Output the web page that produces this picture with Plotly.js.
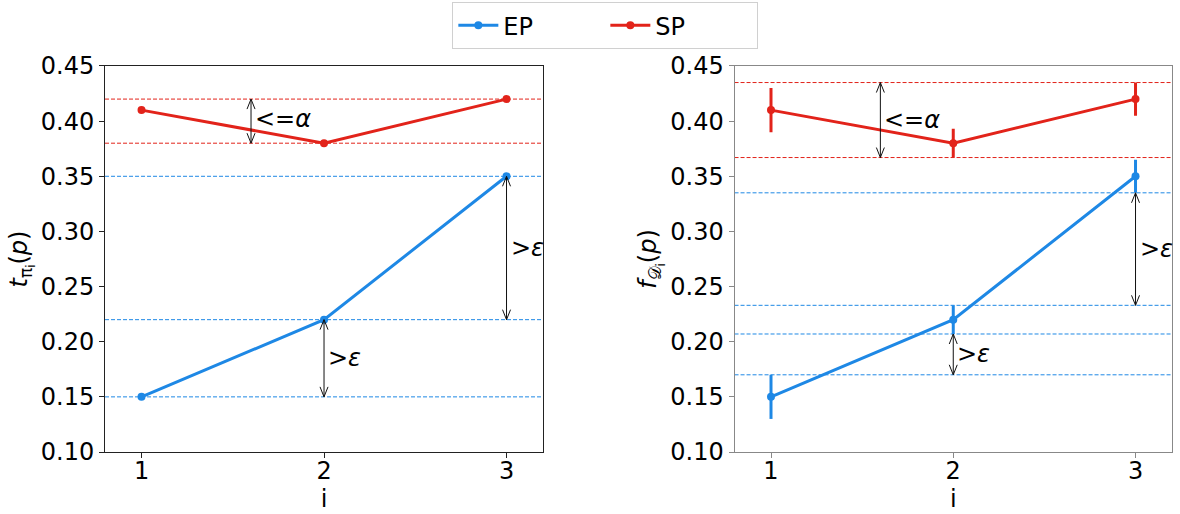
<!DOCTYPE html>
<html>
<head>
<meta charset="utf-8">
<script src="https://cdn.plot.ly/plotly-3.0.1.min.js"></script>
<style>html,body{margin:0;padding:0;background:#fff;} #chart{width:1180px;height:514px;}</style>
</head>
<body>
<div id="chart"></div>
<script>
// ---- data ----
const iVals = [1, 2, 3];
const epT = [0.15, 0.22, 0.35];
const spT = [0.41, 0.38, 0.42];
const epF = [0.15, 0.22, 0.35];
const spF = [0.41, 0.38, 0.42];
const epErr = [0.02, 0.013, 0.015];
const spErr = [0.02, 0.013, 0.015];
const yTicks = [0.10, 0.15, 0.20, 0.25, 0.30, 0.35, 0.40, 0.45];
const xTicks = [1, 2, 3];
const alphaX = 1.6;

const BLUE = '#1E88E5';
const RED = '#E2231A';
const FONT = 'DejaVu Sans';

const traces = [
  {x: iVals, y: epT, name: 'EP', mode: 'lines+markers', xaxis: 'x', yaxis: 'y',
   line: {color: BLUE, width: 3}, marker: {color: BLUE, size: 8}},
  {x: iVals, y: spT, name: 'SP', mode: 'lines+markers', xaxis: 'x', yaxis: 'y',
   line: {color: RED, width: 3}, marker: {color: RED, size: 8}},
  {x: iVals, y: epF, name: 'EP', mode: 'lines+markers', xaxis: 'x2', yaxis: 'y2', showlegend: false,
   line: {color: BLUE, width: 3}, marker: {color: BLUE, size: 8},
   error_y: {type: 'data', array: epErr, visible: true, color: BLUE, thickness: 3, width: 0}},
  {x: iVals, y: spF, name: 'SP', mode: 'lines+markers', xaxis: 'x2', yaxis: 'y2', showlegend: false,
   line: {color: RED, width: 3}, marker: {color: RED, size: 8},
   error_y: {type: 'data', array: spErr, visible: true, color: RED, thickness: 3, width: 0}}
];

const shapes = [];
const annotations = [];
function hline(xr, yr, y, color) {
  shapes.push({type: 'line', xref: xr + ' domain', yref: yr, x0: 0, x1: 1, y0: y, y1: y,
    line: {color: color, width: 1, dash: '4px,2px'}, layer: 'below'});
}
function darrow(xr, yr, x, y0, y1, label, ly) {
  shapes.push({type: 'line', xref: xr, yref: yr, x0: x, x1: x, y0: y0, y1: y1,
    line: {color: '#111', width: 1}});
  shapes.push({type: 'path', xref: xr, yref: yr, xsizemode: 'pixel', ysizemode: 'pixel',
    xanchor: x, yanchor: Math.max(y0, y1), path: 'M-4,-10 L0,0 L4,-10',
    line: {color: '#111', width: 1}});
  shapes.push({type: 'path', xref: xr, yref: yr, xsizemode: 'pixel', ysizemode: 'pixel',
    xanchor: x, yanchor: Math.min(y0, y1), path: 'M-4,10 L0,0 L4,10',
    line: {color: '#111', width: 1}});
  annotations.push({xref: xr, yref: yr, x: x, y: ly, text: label, showarrow: false,
    xanchor: 'left', yanchor: 'middle', xshift: 2, font: {family: FONT, size: 24, color: '#000'}});
}

// left panel
const spTmax = Math.max(...spT), spTmin = Math.min(...spT);
hline('x', 'y', spTmax, RED);
hline('x', 'y', spTmin, RED);
epT.forEach(v => hline('x', 'y', v, BLUE));
darrow('x', 'y', alphaX, spTmin, spTmax, '&lt;=<i>α</i>', (spTmin + spTmax) / 2 + 0.002);
darrow('x', 'y', iVals[1], epT[0], epT[1], '&gt;<i>ε</i>', (epT[0] + epT[1]) / 2);
darrow('x', 'y', iVals[2], epT[1], epT[2], '&gt;<i>ε</i>', (epT[1] + epT[2]) / 2);

// right panel
const spHi = Math.max(...spF.map((v, k) => v + spErr[k]));
const spLo = Math.min(...spF.map((v, k) => v - spErr[k]));
hline('x2', 'y2', spHi, RED);
hline('x2', 'y2', spLo, RED);
const b0 = epF[0] + epErr[0], b1 = epF[1] - epErr[1], b2 = epF[1] + epErr[1], b3 = epF[2] - epErr[2];
[b0, b1, b2, b3].forEach(v => hline('x2', 'y2', v, BLUE));
darrow('x2', 'y2', alphaX, spLo, spHi, '&lt;=<i>α</i>', (spLo + spHi) / 2);
darrow('x2', 'y2', iVals[1], b0, b1, '&gt;<i>ε</i>', (b0 + b1) / 2);
darrow('x2', 'y2', iVals[2], b2, b3, '&gt;<i>ε</i>', (b2 + b3) / 2);

function xax(dom, col, anchor) {
  return {domain: dom, anchor: anchor, range: [0.8, 3.2], tickvals: xTicks, ticktext: xTicks.map(String),
    ticks: 'outside', ticklen: 5, tickcolor: col, tickwidth: 1, showline: true, linecolor: col, linewidth: 1,
    mirror: true, showgrid: false, zeroline: false, automargin: false, ticklabelstandoff: -8,
    tickfont: {family: FONT, size: 24, color: '#000'},
    title: {text: 'i', font: {family: FONT, size: 24, color: '#000'}, standoff: 0}};
}
function yax(dom, col, anchor, title) {
  return {domain: dom, anchor: anchor, range: [0.1, 0.45], tickvals: yTicks, ticktext: yTicks.map(v => v.toFixed(2)),
    ticks: 'outside', ticklen: 5, tickcolor: col, tickwidth: 1, showline: true, linecolor: col, linewidth: 1,
    mirror: true, showgrid: false, zeroline: false, automargin: false,
    tickfont: {family: FONT, size: 24, color: '#000'},
    title: {text: title, font: {family: FONT, size: 24, color: '#000'}, standoff: 6}};
}

const layout = {
  width: 1180, height: 514,
  margin: {l: 0, r: 0, t: 0, b: 0},
  paper_bgcolor: '#fff', plot_bgcolor: '#fff',
  font: {family: FONT, color: '#000'},
  xaxis: xax([0.089, 0.4602], '#222', 'y'),
  yaxis: yax([0.1206, 0.8716], '#222', 'x', '<i>t</i><sub>π<sub>i</sub></sub>(<i>p</i>)'),
  xaxis2: xax([0.6225, 0.9932], '#888', 'y2'),
  yaxis2: yax([0.1206, 0.8716], '#888', 'x2', '<i>f</i><sub>𝒟<sub>i</sub></sub>(<i>p</i>)'),
  showlegend: true,
  legend: {orientation: 'h', x: 0.513, xanchor: 'center', y: 0.996, yanchor: 'top',
    bordercolor: '#d0d0d0', borderwidth: 1, bgcolor: '#fff',
    font: {family: FONT, size: 24, color: '#000'}, entrywidth: 97, entrywidthmode: 'pixels',
    itemwidth: 40, tracegroupgap: 0},
  shapes: shapes,
  annotations: annotations
};

Plotly.newPlot('chart', traces, layout, {displayModeBar: false, staticPlot: true});
</script>
</body>
</html>
